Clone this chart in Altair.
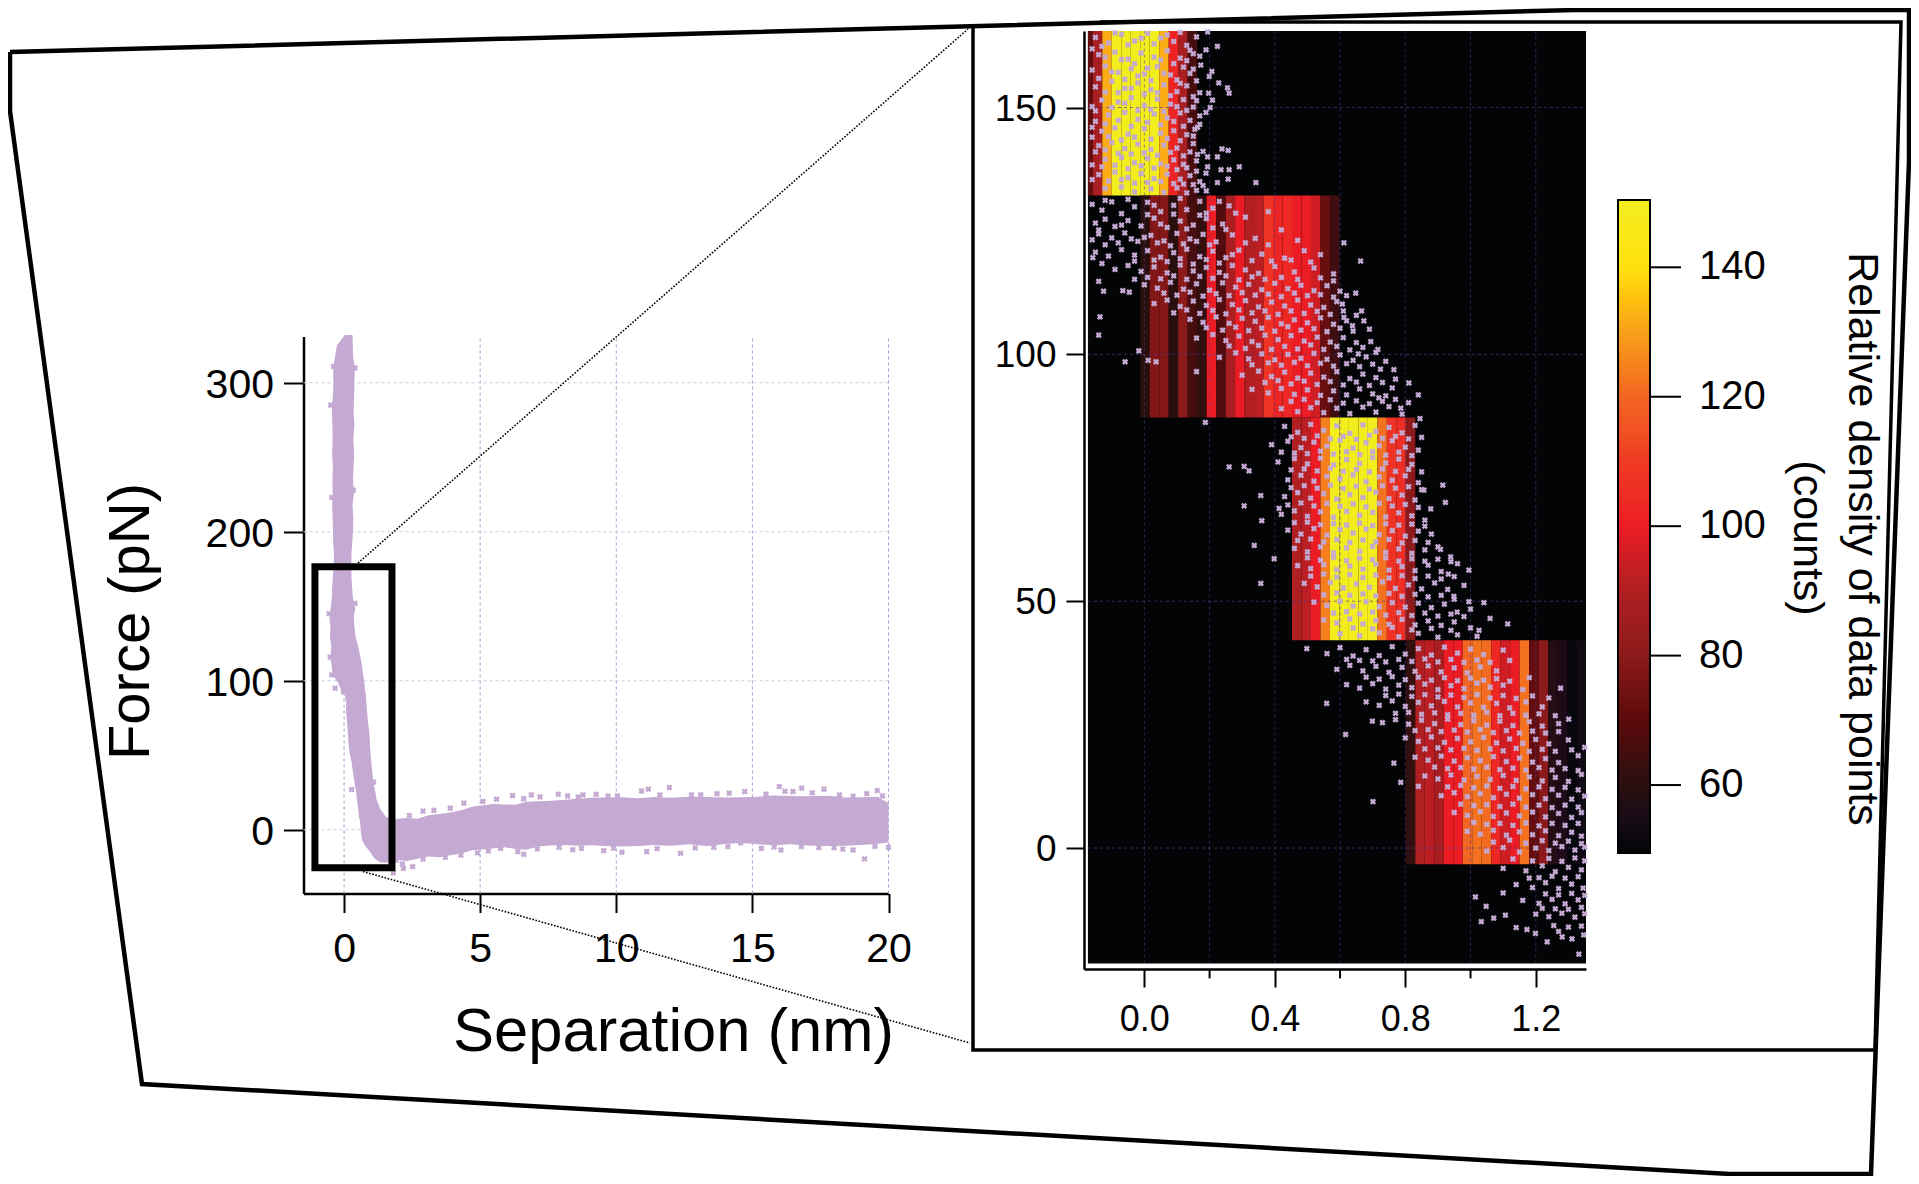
import altair as alt
import pandas as pd

FONT = "Liberation Sans"
W, H = 1903, 1168

# ---------- left plot: Force vs separation ----------
left_x_ticks = [0, 5, 10, 15, 20]
left_y_ticks = [0, 100, 200, 300]
left_x_domain = [-1.49, 20]
left_y_domain = [-42.8, 331]

# dense cloud of the steep part: force, lowest and highest separation
steep_force = [-22, -19, -15, -11, -7, -2, 3, 6.5, 8.3, 14, 20, 26, 32, 38, 45, 52, 58, 65, 72, 80, 85, 91, 95, 98, 104, 110, 116,
               123, 130, 136, 143, 150, 156, 162, 170, 178, 185, 193, 201, 209, 218, 226, 235, 244, 252, 262, 272, 281, 291, 300, 310, 318, 325, 332]
steep_low = [1.33, 1.1, .96, .78, .66, .62, .6, .58, .55, .52, .47, .44, .38, .33, .28, .2, .16, .14, .11, .07, .08, .02, -.14, -.2, -.42, -.46, -.5,
             -.47, -.52, -.5, -.54, -.48, -.45, -.44, -.41, -.38, -.37, -.4, -.41, -.42, -.44, -.42, -.43, -.41, -.44, -.42, -.43, -.45, -.41, -.39, -.4, -.33, -.26, .03]
steep_high = [2, 2, 2, 2, 2, 2, 2, 2, 1.55, 1.33, 1.2, 1.14, 1.08, 1.04, 1.0, .97, .95, .93, .88, .84, .82, .8, .76, .75, .7, .66, .6,
              .52, .42, .38, .36, .4, .32, .3, .27, .27, .27, .3, .33, .34, .31, .36, .33, .35, .37, .34, .38, .35, .37, .38, .4, .33, .32, .31]
# dense cloud of the flat part: separation, lowest and highest force
flat_sep = [1.9, 2.3, 2.7, 3.1, 3.5, 3.9, 4.3, 4.7, 5.1, 5.5, 5.9, 6.3, 6.7, 7.1, 7.6, 8.1, 8.6, 9.1, 9.6, 10.2, 10.8, 11.4, 12, 12.7,
            13.3, 14, 14.6, 15.2, 15.8, 16.4, 17, 17.8, 18.4, 19, 19.6, 20]
flat_low = [-20, -21, -19.5, -18, -18.5, -17.2, -16, -13.8, -13.2, -12.4, -11.8, -13, -13.5, -11.2, -10.6, -10.2, -10.8, -10.4, -10.9, -11.2, -11, -10.2, -10.8, -9.8,
            -11, -9.6, -8.9, -9.8, -10.4, -9.7, -10.6, -11, -10.8, -10.2, -9.4, -8.5]
flat_high = [7.2, 7.8, 7.4, 9.8, 10.5, 11.5, 13, 15.5, 16.5, 17.2, 17, 16.8, 18.8, 19.2, 19.4, 20.2, 20.8, 21.4, 21.6, 21.8, 21.2, 22, 21.5, 22.2,
             22, 21.6, 21.8, 22.2, 23, 22.6, 22.4, 22.8, 21.6, 21.8, 22.2, 18]
# stray points on the rim of the cloud
stray = [(6.19,22.9),(6.88,23.4),(7.87,23.8),(8.21,22.7),(8.78,23.4),(9.26,23.8),(10.04,22.7),(10.93,26),(11.18,27.2),
(11.95,28.3),(12.76,23.4),(14.15,24.5),(14.72,25.6),(15.99,29),(16.81,27.9),(17.63,27.2),(18.2,23.4),(19.59,26.3),
(19.78,22.7),(16.49,25.6),(2.14,-23),(2.52,-24.8),(2.9,-19.8),(3.72,-18.5),(4.29,-17),(5.75,-12.5),(6.38,-14.7),
(6.6,-16.5),(7.9,-11.8),(8.72,-12.5),(9.54,-14),(10.21,-15.1),(11.12,-14.7),(12.36,-15.8),(13.58,-11.8),(14.57,-8.8),
(15.33,-12.5),(16.05,-13.6),(17.44,-12),(18.32,-13),(18.7,-13.6),(19.12,-19.6),(20,-11.8),(-0.49,285),(-0.45,223),
(-0.55,145),(-0.51,115.8),(-0.45,104),(-0.33,95),(-0.02,92.6),(0.28,27),(1.08,32),(2.18,-26),(1.81,-29),(0.31,148),
(0.4,152),(0.34,228),(0.4,310),(-0.39,311),(2.4,9.5),(2.9,12.5),(3.3,13),(3.9,14.5),(4.4,17.8),(5.1,19),(5.6,20.5),
(6.6,20.8),(7.2,22),(8.6,21.9),(9.7,22.6),(11.6,23.4),(13.1,23.5),(13.7,24.2),(15.5,23.9),(16.2,25.8),(17.2,24.8),
(18.7,22.4),(19.2,24.2),(4.9,-15.6),(5.3,-14.2),(7.1,-12.9),(8.4,-13.4),(9.9,-12.4),(11.5,-12.6),(12.9,-12.2),(14.1,-11.4),
(15.8,-11.6),(16.8,-11.3),(18,-12),(19.5,-11.2)]
# marked rectangle (the range enlarged on the right)
box_sep = [-1.07, 1.76]
box_force = [-25.6, 176.6]

# ---------- right plot: enlarged range with density map ----------
right_x_major = [0.0, 0.4, 0.8, 1.2]
right_x_minor = [0.2, 0.6, 1.0]
right_y_ticks = [0, 50, 100, 150]
right_x_domain = [-0.185, 1.354]
right_y_domain = [-24.5, 165.5]
map_corner = [-0.173, -23.4]

force_bands = [(132.2, 165.5), (87.2, 132.2), (42.1, 87.2), (-3.3, 42.1)]
column_start = -0.158
column_width = 0.02908
# counts per column, first entry is the column number
band_columns = [
    (-1, [72, 88, 132, 150, 150, 150, 150, 150, 132, 102, 88, 66]),
    (5, [60, 78, 78, 60, 80, 66, 62, 100, 68, 88, 100, 90, 92, 107, 102, 103, 100, 100, 95, 73, 64]),
    (21, [90, 92, 100, 124, 150, 150, 150, 150, 150, 122, 107, 105, 80]),
    (33, [62, 90, 92, 88, 100, 100, 120, 122, 121, 103, 95, 100, 122, 72, 80, 58, 56, 51, 53]),
]
count_domain = [49.5, 60, 70, 80, 90, 100, 110, 120, 130, 140, 150.4]
count_colors = ["#030406", "#2a0f0f", "#5c0a0a", "#8d1a1a", "#b01f22", "#ec1c24", "#ef3a24", "#f26522", "#f9a01b", "#ffe00f", "#f4ee1f"]
count_ticks = [60, 80, 100, 120, 140]

points_top = [(.194,165.3),(.224,162.4),(.189,161.7),(.173,158.6),(.207,157.3),(.199,156.3),(.228,155),(.255,154),(.26,152.9),
(.197,152.9),(.209,151.5),(.202,150),(.189,149),(.163,146),(.238,141.6),(.257,141.3),(.163,140.5),(.194,140),(.224,140),
(.194,138),(.235,137.4),(.26,137.4),(.291,138),(.189,136.7),(.224,134.8),(.257,135.5),(.342,134.8),
(-.15,164.2),(-.11,163.1),(-.07,164.8),(-.03,163.5),(.01,165),(.05,164.1),(.09,163.4),(.13,162.6),(.16,164.3),
(-.14,160.7),(-.09,161.2),(-.05,159.8),(-.01,161),(.03,160.2),(.07,161.5),(.11,160),(.15,160.9),(.12,158.2),
(-.16,157.6),(-.12,158.4),(-.08,157.1),(-.04,157.9),(.0,156.8),(.04,158.3),(.08,156.6),(.14,156.9),(.16,155.4),
(-.15,154.2),(-.1,155.3),(-.06,153.9),(-.02,155),(.02,153.6),(.06,154.6),(.1,153.2),(.13,154.4),(.17,153),
(-.13,151.5),(-.08,151.1),(-.04,152),(.0,150.4),(.04,151.7),(.08,150.7),(.12,151.6),(.15,150.1),(-.16,150.2),
(-.11,148.5),(-.06,149),(-.02,147.6),(.03,148.7),(.07,147.9),(.11,148.9),(.14,147.4),(.17,148.3),(-.15,147.2),
(-.13,145.2),(-.09,145.9),(-.05,144.6),(.0,145.7),(.05,144.8),(.09,145.3),(.13,144.5),(.155,145.6),(-.16,144),
(-.14,142.3),(-.1,142.9),(-.06,141.7),(-.02,142.6),(.02,141.5),(.06,142.4),(.1,141.8),(.15,142.7),(.18,141.1),
(-.12,139.5),(-.07,139.9),(-.03,138.8),(.01,139.7),(.05,138.6),(.09,139.4),(.12,138.5),(.16,139.2),(-.16,138.4),
(-.14,136.4),(-.09,136.9),(-.05,135.8),(-.01,136.6),(.03,135.6),(.07,136.5),(.11,135.5),(.14,136.2),(.17,135),
(-.12,133.6),(-.07,133.9),(-.03,132.9),(.02,133.5),(.06,132.8),(.1,133.7),(.13,132.7),(.16,133.2),(.19,133.1),
(-.13,162.4),(-.09,165.1),(-.05,162.7),(-.01,164),(.03,162.9),(.07,164.7),(.11,165.2),(.14,161.6),(-.16,161.9),(-.12,160.2),
(-.07,159.7),(-.03,158.9),(.01,158),(.05,159.6),(.09,158.9),(.13,159.5),(.17,160.4),(-.14,155.9),(-.1,157.2),(-.06,155.7),
(-.02,156.4),(.02,155.5),(.06,156.9),(.1,155.6),(.15,157.8),(-.12,153.1),(-.08,153),(-.04,153.9),(.0,152.7),(.04,153),(.08,152.4),(.11,154.9),(.15,152.2),
(-.15,149.3),(-.1,150),(-.06,150.9),(-.02,149.4),(.02,149.6),(.06,149.2),(.1,150.2),(.13,149.4),(.16,151.4),
(-.12,146.7),(-.08,147.4),(-.04,146.2),(.01,147),(.05,146.5),(.09,147.2),(.12,146.2),(.17,146.6),(-.16,146),
(-.11,144.1),(-.07,143.4),(-.03,144),(.02,143.6),(.07,143.7),(.11,143.3),(.15,144.2),(-.15,141),(-.12,141.4),(-.08,140.7),
(-.04,140.6),(.0,140.8),(.04,140.3),(.08,140.9),(.12,140.2),(.14,141),(-.13,138),(-.09,138.3),(-.05,137.6),(-.01,138.2),(.03,137.7),(.07,138.1),(.1,137.4),(.13,137.8),(.16,137.1),
(-.16,135.4),(-.11,135.1),(-.07,135.4),(-.03,134.7),(.01,134.8),(.05,135),(.09,134.6),(.12,134.5),(.15,134.4),(.18,134.2)]
points_middle = [(.612,122.6),(.663,118.9),(.648,112.4),(.607,110.2),(.666,108.8),(.612,107.5),(.673,106.8),(.638,105.8),
(.694,102.6),(.656,100.1),(.716,101),(.724,97),(.765,96.9),(.811,94.2),(.76,93.2),(.719,91.2),(.786,89.1),(.845,87),
(-.14,103.9),(-.136,107.6),(-.059,98.5),(-.14,114.8),(-.125,112.8),(-.158,119.6),(-.066,112.9),(-.046,112.6),(-.017,100.7),
(.012,98.8),(.036,98.5),(.187,86.2),(.16,96.5),
(-.16,130.4),(-.13,129.2),(-.1,130.9),(-.07,128.5),(-.03,129.9),(.01,130.8),(.05,128.9),(.09,130.2),(.13,129.3),(.17,131),(.21,129.6),(.26,130.1),
(-.15,126.6),(-.12,127.4),(-.09,125.9),(-.05,127.1),(-.01,126),(.03,127.6),(.07,125.7),(.11,127),(.15,126.2),(.19,127.5),(.24,126.4),(.31,127.8),(.38,128.9),
(-.16,123.2),(-.14,124.4),(-.1,123.6),(-.06,124.6),(-.02,122.9),(.02,124.1),(.06,123),(.1,124.5),(.14,123.4),(.18,124.3),(.22,122.8),(.27,124.2),(.34,123.5),(.42,125.2),(.47,123.1),
(-.15,120.7),(-.11,119.9),(-.07,121.2),(-.03,120.1),(.01,121),(.05,119.7),(.09,120.6),(.13,121.3),(.17,119.8),(.21,120.9),(.25,119.6),(.29,121.1),(.36,120.3),(.43,119.5),(.49,121),(.54,120.2),
(-.09,117.2),(-.05,118),(-.01,116.8),(.03,117.7),(.07,116.5),(.11,118.1),(.15,116.9),(.19,117.6),(.23,116.6),(.27,118),(.31,117.1),(.35,116.4),(.4,117.8),(.46,116.7),(.52,117.5),(.58,116.3),
(.0,114.1),(.04,113.4),(.08,114.6),(.12,113.2),(.16,114.3),(.2,113),(.24,114.5),(.28,113.6),(.32,114.2),(.36,113.1),(.4,114.4),(.44,113.3),(.48,114),(.52,112.9),(.56,113.9),(.6,112.8),
(.03,110.3),(.07,111),(.11,109.7),(.15,110.8),(.19,109.9),(.23,111.1),(.27,110.1),(.31,110.9),(.35,109.6),(.39,110.6),(.43,109.8),(.47,111),(.51,110),(.55,109.5),(.59,110.7),
(.14,107.1),(.18,106.5),(.22,107.6),(.26,106.3),(.3,107.3),(.34,106.7),(.38,107.5),(.42,106.2),(.46,107),(.5,106.4),(.54,107.4),(.58,106.1),(.62,106.8),
(.16,103.3),(.21,104),(.25,102.8),(.29,103.7),(.33,102.6),(.37,103.9),(.41,103),(.45,103.8),(.49,102.7),(.53,103.5),(.57,102.5),(.61,103.4),(.65,102.4),
(.23,99.4),(.28,100.3),(.32,99.1),(.36,100.1),(.4,98.9),(.44,100),(.48,99.2),(.52,100.2),(.56,99),(.6,99.9),(.64,98.8),(.68,99.5),
(.3,95.8),(.35,96.6),(.39,95.5),(.43,96.4),(.47,95.2),(.51,96.2),(.55,95.4),(.59,96.5),(.63,95.1),(.67,96),(.71,95.3),
(.33,92.9),(.38,92.2),(.42,93.1),(.46,91.9),(.5,92.8),(.54,91.7),(.58,92.6),(.62,91.8),(.66,93),(.7,92),(.74,91.6),
(.42,89),(.47,88.4),(.51,89.2),(.55,88.2),(.59,89.1),(.63,88),(.67,89.3),(.71,88.3),(.75,89.4),(.79,87.9),
(-.12,131.2),(-.05,131.4),(.03,130.2),(.11,131.6),(.19,128.6),(.23,131),(-.14,125.2),(-.07,126.2),(.01,128.3),(.05,126.4),(.09,128.4),(.13,125.4),(.17,128.2),(.21,125.6),(.28,128.6),
(-.12,122.2),(-.08,122.6),(-.04,123.4),(.0,123.7),(.04,122.6),(.08,122),(.12,122.4),(.16,122.9),(.2,122.2),(.25,125.3),(.31,122.6),(.38,122.2),
(-.13,118.4),(-.03,118.9),(.03,119.1),(.07,118.8),(.11,119.4),(.15,118.3),(.19,119.2),(.23,118.5),(.27,120.2),(.33,119),(.39,118.9),(.45,119.1),(.51,118.7),
(-.03,115.2),(.01,115.6),(.05,115.3),(.09,115.9),(.13,115.2),(.17,115.8),(.21,115.4),(.25,115.9),(.29,115.1),(.33,115.7),(.37,115.2),(.42,115.6),(.47,115.2),(.54,115.5),(.58,114.9),
(.06,112.4),(.1,112),(.14,112.6),(.18,111.8),(.22,112.3),(.26,111.9),(.3,112.5),(.34,112),(.38,112.2),(.42,111.7),(.46,112.4),(.5,111.9),(.54,112.1),(.58,111.6),(.62,111.9),
(.09,108.4),(.13,109),(.17,108.3),(.21,108.9),(.25,108.2),(.29,109),(.33,108.4),(.37,108.8),(.41,108.1),(.45,108.8),(.49,108.3),(.53,108.7),(.57,108.1),(.61,108.8),(.65,107.9),
(.19,105.4),(.24,104.9),(.28,105.5),(.32,104.8),(.36,105.3),(.4,104.7),(.44,105.6),(.48,104.9),(.52,105.2),(.56,104.6),(.6,105.3),(.64,104.7),(.69,105.1),
(.26,101.7),(.31,101.2),(.35,101.8),(.39,101),(.43,101.6),(.47,101.1),(.51,101.9),(.55,101),(.59,101.6),(.63,100.9),(.67,101.4),(.71,100.4),
(.33,97.9),(.38,98.3),(.42,97.8),(.46,98.4),(.5,97.7),(.54,98.2),(.58,97.6),(.62,98.1),(.66,97.5),(.7,98),(.74,98.6),
(.37,94.3),(.41,94.7),(.45,94),(.49,94.6),(.53,93.9),(.57,94.5),(.61,93.8),(.65,94.4),(.69,93.7),(.73,94.3),(.77,95),
(.45,90.5),(.49,90.9),(.53,90.2),(.57,90.8),(.61,90.1),(.65,90.6),(.69,90),(.73,90.5),(.77,90.9),(.81,90.2),(.84,91.8)]
points_third = [(.26,77.2),(.306,77.3),(.321,76.4),(.306,69.3),(.357,71.4),(.357,53.6),(.337,61.3),(.398,58.6),(.36,66.3),(.413,68.8),
(.857,72.5),(.915,73.5),(.923,70),(.878,68.7),(.908,60.5),(.939,59),(.995,56.3),(.932,55.5),(.949,51),(1.041,49.7),(.995,49.9),
(.959,47.8),(1.114,45.4),(1.026,44.1),
(.43,85.4),(.47,84.2),(.51,85.8),(.55,84.6),(.59,85.5),(.63,84),(.67,85.7),(.71,84.4),(.75,85.2),(.79,84.1),(.83,85.6),
(.39,81.7),(.44,82.4),(.48,81.1),(.52,82.2),(.56,81.4),(.6,82.6),(.64,81),(.68,82.1),(.72,81.5),(.76,82.5),(.8,81.2),(.84,80.6),
(.41,78.2),(.46,78.9),(.5,77.8),(.54,79),(.58,77.6),(.62,78.7),(.66,77.9),(.7,79.1),(.74,78),(.78,78.8),(.82,77.7),
(.44,74.6),(.48,75.5),(.52,74.3),(.56,75.3),(.6,74.8),(.64,75.6),(.68,74.2),(.72,75.2),(.76,74.5),(.8,75.4),(.84,74),
(.43,71.2),(.47,72),(.51,70.9),(.55,71.8),(.59,70.7),(.63,71.6),(.67,71),(.71,72.1),(.75,70.8),(.79,71.5),(.83,70.5),
(.42,67.6),(.46,68.3),(.5,67.2),(.54,68.1),(.58,67),(.62,68.2),(.66,67.4),(.7,68),(.74,67.1),(.78,67.9),(.82,67.3),(.86,66.4),
(.44,64.4),(.48,63.6),(.52,64.7),(.56,63.4),(.6,64.5),(.64,63.8),(.68,64.6),(.72,63.5),(.76,64.3),(.8,63.2),(.84,64.2),(.88,63.6),
(.46,60.7),(.5,60),(.54,61),(.58,59.8),(.62,60.8),(.66,60.1),(.7,61.1),(.74,59.9),(.78,60.6),(.82,59.7),(.86,60.4),(.9,61),
(.47,57.2),(.51,56.6),(.55,57.4),(.59,56.4),(.63,57.1),(.67,56.5),(.71,57.5),(.75,56.3),(.79,57),(.83,56.2),(.87,57.3),(.91,56),(.96,57.6),
(.49,53.6),(.53,52.9),(.57,53.8),(.61,52.7),(.65,53.5),(.69,52.8),(.73,53.9),(.77,52.6),(.81,53.3),(.85,52.5),(.89,53.7),(.93,52.4),(.98,53.2),
(.52,49.8),(.56,49.1),(.6,50),(.64,49),(.68,49.9),(.72,48.9),(.76,49.7),(.8,48.8),(.84,49.6),(.88,48.7),(.92,49.4),(1.0,48.4),
(.55,46.2),(.59,45.6),(.63,46.4),(.67,45.4),(.71,46.1),(.75,45.3),(.79,46.3),(.83,45.2),(.87,46),(.91,45.1),(.95,45.8),(1.06,46.5),
(.6,43.4),(.66,43),(.72,43.6),(.78,42.8),(.84,43.5),(.9,42.7),(.96,43.2),(1.02,42.9),
(.45,83.3),(.49,83),(.53,83.5),(.57,82.9),(.61,83.4),(.65,82.8),(.69,83.6),(.73,83),(.77,83.4),(.81,82.9),(.85,83.2),
(.42,80.2),(.46,80),(.5,79.9),(.54,80.4),(.58,79.8),(.62,80.3),(.66,79.7),(.7,80.3),(.74,79.6),(.78,80.2),(.82,79.5),
(.45,76.6),(.49,76.8),(.53,76.4),(.57,76.9),(.61,76.3),(.65,76.7),(.69,76.2),(.73,76.8),(.77,76.3),(.81,76.7),(.85,76.2),
(.45,73),(.49,73.4),(.53,72.9),(.57,73.5),(.61,72.8),(.65,73.3),(.69,72.7),(.73,73.4),(.77,72.9),(.81,73.2),(.85,72.6),
(.44,69.5),(.48,69.9),(.52,69.3),(.56,69.8),(.6,69.2),(.64,69.7),(.68,69.1),(.72,69.8),(.76,69.3),(.8,69.6),(.84,69),
(.46,65.9),(.5,66),(.54,65.5),(.58,65.7),(.62,65.4),(.66,65.8),(.7,65.3),(.74,65.7),(.78,65.4),(.82,65.6),(.86,65.2),
(.47,62.3),(.51,62.6),(.55,62),(.59,62.5),(.63,61.9),(.67,62.4),(.71,62),(.75,62.5),(.79,61.8),(.83,62.3),(.87,61.9),
(.5,58.8),(.54,58.3),(.58,58.9),(.62,58.2),(.66,58.7),(.7,58.4),(.74,58.8),(.78,58.1),(.82,58.6),(.86,58.1),(.9,58.5),(.94,58),
(.51,55.1),(.55,55.5),(.59,54.9),(.63,55.4),(.67,54.8),(.71,55.3),(.75,54.7),(.79,55.2),(.83,54.6),(.87,55.1),(.91,54.5),(.95,55),
(.55,51.3),(.59,51.7),(.63,51.2),(.67,51.5),(.71,51.1),(.75,51.6),(.79,51),(.83,51.4),(.87,50.9),(.91,51.2),(.95,50.4),
(.58,47.6),(.62,47.9),(.66,47.4),(.7,47.8),(.74,47.2),(.78,47.7),(.82,47.1),(.86,47.6),(.9,47),(.94,47.4),(.98,46.9),
(.64,44.6),(.7,44.4),(.76,44.7),(.82,44.2),(.88,44.5),(.94,44.1),(1.0,44.6)]
points_bottom = [(.498,40.4),(.559,29.3),(.617,23),(.699,25.7),(.765,17.2),(.786,13.3),(.701,9.4),(.84,12.5),(1.276,32.4),(1.301,26.1),(1.27,25.2),
(.56,39.4),(.6,40.6),(.64,38.9),(.68,40.2),(.72,39),(.76,40.8),(.8,39.3),(.84,40.4),(.88,39.1),(.92,40.7),(.96,39.5),(1.0,40.3),(1.04,39.2),(1.1,40.1),
(.59,36.2),(.63,37),(.67,35.9),(.71,36.8),(.75,35.6),(.79,36.6),(.83,35.8),(.87,36.9),(.91,35.7),(.95,36.5),(.99,35.5),(1.03,36.7),(1.08,35.9),
(.62,33.1),(.66,32.4),(.7,33.3),(.74,32.2),(.78,33),(.82,32.5),(.86,33.2),(.9,32.1),(.94,32.9),(.98,32.3),(1.02,33.4),(1.06,32.6),(1.1,33),(1.16,32.1),
(.68,29.6),(.72,28.9),(.76,29.8),(.8,28.7),(.84,29.5),(.88,28.8),(.92,29.7),(.96,28.6),(1.0,29.4),(1.04,28.5),(1.08,29.3),(1.12,28.4),(1.17,29.6),(1.22,28.6),
(.73,25.4),(.77,26),(.81,25.1),(.85,25.9),(.89,25.2),(.93,26.1),(.97,25),(1.01,25.8),(1.05,24.9),(1.09,25.7),(1.13,24.8),(1.18,25.6),(1.22,24.7),
(.8,22.3),(.84,21.6),(.88,22.5),(.92,21.4),(.96,22.2),(1.0,21.5),(1.04,22.4),(1.08,21.3),(1.12,22.1),(1.16,21.2),(1.2,22),(1.24,21.1),(1.3,21.9),
(.83,18.4),(.87,17.8),(.91,18.6),(.95,17.6),(.99,18.3),(1.03,17.7),(1.07,18.5),(1.11,17.5),(1.15,18.2),(1.19,17.4),(1.23,18.1),(1.27,17.3),(1.33,18.7),
(.86,14.6),(.9,14),(.94,14.8),(.98,13.8),(1.02,14.5),(1.06,13.9),(1.1,14.7),(1.14,13.7),(1.18,14.4),(1.22,13.6),(1.26,14.3),(1.3,13.5),(1.34,14.9),
(.91,10.6),(.95,11.2),(.99,10.4),(1.03,11),(1.07,10.2),(1.11,10.9),(1.15,10.1),(1.19,10.8),(1.23,10),(1.27,10.7),(1.31,9.9),(1.35,10.5),
(.95,7.2),(.99,6.6),(1.03,7.4),(1.07,6.4),(1.11,7.1),(1.15,6.5),(1.19,7.3),(1.23,6.3),(1.27,7),(1.31,6.2),(1.34,7.2),
(.99,3.4),(1.03,2.8),(1.07,3.6),(1.11,2.6),(1.15,3.3),(1.19,2.7),(1.23,3.5),(1.27,2.5),(1.31,3.2),(1.34,2.4),
(1.05,-.6),(1.1,.1),(1.15,-.8),(1.2,0),(1.24,-.5),(1.28,.3),(1.32,-.4),(1.35,.2),
(1.1,-4.1),(1.17,-4.6),(1.22,-3.6),(1.26,-4.8),(1.3,-3.9),(1.34,-4.4),
(1.015,-9.9),(1.048,-11.8),(1.033,-14.9),(1.071,-14.2),(1.107,-13.6),(1.14,-16.1),(1.173,-16.5),(1.199,-17.3),(1.235,-19),(1.255,-15.7),
(1.281,-18),(1.311,-18.4),(1.332,-21.5),(1.347,-17.6),
(1.14,-7.4),(1.19,-8),(1.23,-7),(1.27,-8.2),(1.31,-7.3),(1.345,-8.1),(1.16,-10.6),(1.21,-11.2),(1.25,-10.4),(1.29,-11.3),(1.33,-10.5),
(1.2,-13.4),(1.24,-13.9),(1.28,-13.2),(1.32,-14),(1.35,-13.3),
(.62,38.2),(.66,38),(.7,37.9),(.74,37.7),(.78,38.2),(.82,37.8),(.86,38.3),(.9,37.7),(.94,38.2),(.98,37.6),(1.02,38.1),(1.06,37.6),(1.12,38),
(.68,34.6),(.72,34.2),(.76,34.7),(.8,34.1),(.84,34.6),(.88,34),(.92,34.5),(.96,33.9),(1,34.4),(1.04,34),(1.08,34.3),(1.12,33.8),(1.18,34.5),
(.74,30.9),(.78,31.2),(.82,30.7),(.86,31.1),(.9,30.6),(.94,31),(.98,30.5),(1.02,31.1),(1.06,30.4),(1.1,30.9),(1.14,30.3),(1.19,30.8),(1.24,30.4),
(.77,27.3),(.81,27.5),(.85,27.1),(.89,27.4),(.93,27),(.97,27.3),(1.01,26.9),(1.05,27.5),(1.09,26.8),(1.13,27.3),(1.17,26.9),(1.21,27.2),(1.26,26.8),
(.83,23.8),(.87,24),(.91,23.6),(.95,23.9),(.99,23.5),(1.03,24),(1.07,23.4),(1.11,23.8),(1.15,23.3),(1.19,23.7),(1.23,23.3),(1.27,23.6),
(.86,20.1),(.9,20.3),(.94,19.9),(.98,20.2),(1.02,19.8),(1.06,20.1),(1.1,19.7),(1.14,20.2),(1.18,19.6),(1.22,20),(1.26,19.6),(1.31,19.9),(1.35,20.4),
(.89,16.4),(.93,16.1),(.97,16.3),(1.01,16),(1.05,16.4),(1.09,15.9),(1.13,16.2),(1.17,15.8),(1.21,16.3),(1.25,15.8),(1.29,16.1),(1.33,15.7),
(.93,12.4),(.97,12.7),(1.01,12.2),(1.05,12.6),(1.09,12.1),(1.13,12.5),(1.17,12),(1.21,12.4),(1.25,11.9),(1.29,12.3),(1.33,11.8),
(.97,8.9),(1.01,8.6),(1.05,8.8),(1.09,8.4),(1.13,8.9),(1.17,8.3),(1.21,8.7),(1.25,8.2),(1.29,8.7),(1.33,8.3),
(1.01,5.2),(1.05,4.8),(1.09,5),(1.13,4.6),(1.17,5.1),(1.21,4.5),(1.25,5),(1.29,4.6),(1.33,5),
(1.07,1.2),(1.12,1.6),(1.17,1),(1.22,1.5),(1.26,1),(1.3,1.4),(1.34,.9),
(1.13,-2.2),(1.19,-2.6),(1.24,-2.1),(1.28,-2.7),(1.32,-2),(1.35,-2.6),(1.21,-6),(1.25,-5.7),(1.29,-6.1),(1.33,-5.8),(1.18,-6.1),
(1.1,-9.1),(1.23,-9.3),(1.27,-9.5),(1.31,-9.2),(1.35,-9.6),(1.3,-12.4),(1.34,-12),(1.26,-12.3),(1.22,-12.2),(1.3,-16),(1.34,-15.8),(1.27,-16.9)]

# ---------- figure dressing, in page pixels ----------
outer_frame_x = [10, 10, 142, 1730, 1871, 1909, 1909, 1575, 10]
outer_frame_y = [52, 111, 1084, 1174, 1174, 161, 10, 10, 52]
inner_frame_x = [973, 973, 1875, 1901, 1100]
inner_frame_y = [27, 1050, 1050, 22, 22]
link_upper_x = [358, 968]
link_upper_y = [563, 29]
link_lower_x = [363, 970]
link_lower_y = [871.5, 1043]
side_labels = ["Relative density of data points", "(counts)"]
side_label_x = [1862, 1807]
side_label_y = [539, 538]
bar_tick_x = [1650, 1681]


def sc(domain, rng):
    return alt.Scale(domain=domain, range=rng, nice=False, zero=False)


lx = sc(left_x_domain, [295.5, 880.5])
ly = sc(left_y_domain, [885.5, 328.6])
rx = sc(right_x_domain, [1076, 1578])
ry = sc(right_y_domain, [961, 23])
fx = sc([0, 1919], [-8, 1911])
fy = sc([0, 1184], [-8, 1176])
by = sc([49.5, 150.4], [845, 192])

# --- left plot layers
left_axis_x = alt.Axis(values=left_x_ticks, grid=False, orient="bottom", offset=885.5 - H, tickSize=19, tickWidth=2,
                       tickColor="black", domainColor="black", domainWidth=2.5, labelFont=FONT, labelFontSize=41,
                       labelColor="black", labelPadding=17, labelFlush=False, title="Separation (nm)", titleFont=FONT,
                       titleFontSize=61.5, titleFontWeight="normal", titleColor="black", titleX=665, titleY=138.5,
                       titleBaseline="middle", titleAlign="center", titlePadding=0)
left_axis_y = alt.Axis(values=left_y_ticks, grid=False, orient="left", offset=-295.5, tickSize=20, tickWidth=2,
                       tickColor="black", domainColor="black", domainWidth=2.5, labelFont=FONT, labelFontSize=41,
                       labelColor="black", labelPadding=10, labelOffset=2.5, labelFlush=False, title="Force (pN)",
                       titleFont=FONT, titleFontSize=58, titleFontWeight="normal", titleColor="black", titleX=-172.5,
                       titleY=613, titleAngle=-90, titleBaseline="middle", titleAlign="center", titlePadding=0)

left_v = pd.DataFrame({"x": left_x_ticks, "a": left_y_domain[0], "b": left_y_domain[1]})
left_h = pd.DataFrame({"y": left_y_ticks, "a": left_x_domain[0], "b": left_x_domain[1]})
grid_left_v = alt.Chart(left_v).mark_rule(color="#a29dd2", strokeDash=[3, 3], strokeWidth=1).encode(
    x=alt.X("x:Q", scale=lx, axis=left_axis_x),
    y=alt.Y("a:Q", scale=ly, axis=left_axis_y), y2="b:Q")
grid_left_h = alt.Chart(left_h).mark_rule(color="#cdcae4", strokeDash=[3, 3], strokeWidth=1).encode(
    y=alt.Y("y:Q", scale=ly, axis=None),
    x=alt.X("a:Q", scale=lx, axis=None), x2="b:Q")

CLOUD = "#c4a9d3"
steep = alt.Chart(pd.DataFrame({"f": steep_force, "lo": steep_low, "hi": steep_high})).mark_area(
    orient="horizontal", color=CLOUD, opacity=1).encode(
    y=alt.Y("f:Q", scale=ly, axis=None), x=alt.X("lo:Q", scale=lx, axis=None), x2="hi:Q")
flat = alt.Chart(pd.DataFrame({"s": flat_sep, "lo": flat_low, "hi": flat_high})).mark_area(
    orient="vertical", color=CLOUD, opacity=1).encode(
    x=alt.X("s:Q", scale=lx, axis=None), y=alt.Y("lo:Q", scale=ly, axis=None), y2="hi:Q")
stray_df = pd.DataFrame(stray, columns=["s", "f"])
stray_pts = alt.Chart(stray_df).mark_point(shape="cross", filled=True, angle=45, size=40, color=CLOUD, opacity=1).encode(
    x=alt.X("s:Q", scale=lx, axis=None), y=alt.Y("f:Q", scale=ly, axis=None))
box = alt.Chart(pd.DataFrame({"a": [box_sep[0]], "b": [box_sep[1]], "c": [box_force[0]], "d": [box_force[1]]})).mark_rect(
    fillOpacity=0, stroke="black", strokeWidth=7).encode(
    x=alt.X("a:Q", scale=lx, axis=None), x2="b:Q", y=alt.Y("c:Q", scale=ly, axis=None), y2="d:Q")

# --- density map
map_back = alt.Chart(pd.DataFrame({"a": [map_corner[0]], "b": [right_x_domain[1]], "c": [map_corner[1]], "d": [right_y_domain[1]]})).mark_rect(
    color="#030406", strokeWidth=0).encode(
    x=alt.X("a:Q", scale=rx, axis=None), x2="b:Q", y=alt.Y("c:Q", scale=ry, axis=None), y2="d:Q")
rows = []
for (f0, f1), (first, counts) in zip(force_bands, band_columns):
    for i, n in enumerate(counts):
        a = column_start + (first + i) * column_width
        rows.append({"a": max(a, map_corner[0]), "b": min(a + column_width, right_x_domain[1]), "c": f0, "d": f1, "n": n})
heat = alt.Chart(pd.DataFrame(rows)).mark_rect(strokeWidth=0).encode(
    x=alt.X("a:Q", scale=rx, axis=alt.Axis(values=right_x_major, format=".1f", grid=False, orient="bottom",
                                           offset=961 - H, tickSize=18, tickWidth=2, tickColor="black",
                                           domainColor="black", domainWidth=2.5, labelFont=FONT, labelFontSize=36,
                                           labelColor="black", labelPadding=15, labelFlush=False, title=None)),
    x2="b:Q",
    y=alt.Y("c:Q", scale=ry, axis=alt.Axis(values=right_y_ticks, grid=False, orient="left", offset=-1076, tickSize=18,
                                           tickWidth=2, tickColor="black", domainColor="black", domainWidth=2.5,
                                           labelFont=FONT, labelFontSize=37, labelColor="black", labelPadding=10,
                                           labelOffset=1.5, labelFlush=False, title=None)),
    y2="d:Q",
    color=alt.Color("n:Q", scale=alt.Scale(domain=count_domain, range=count_colors),
                    legend=alt.Legend(orient="none", legendX=1610, legendY=192, direction="vertical",
                                      gradientLength=653, gradientThickness=32, gradientStrokeColor="black",
                                      gradientStrokeWidth=2, values=count_ticks, labelFont=FONT, labelFontSize=40,
                                      labelColor="black", labelOffset=49, labelOverlap=False, title=None, padding=0)))
right_v = pd.DataFrame({"x": right_x_major + right_x_minor, "a": map_corner[1], "b": right_y_domain[1]})
right_h = pd.DataFrame({"y": right_y_ticks, "a": map_corner[0], "b": right_x_domain[1]})
grid_right_v = alt.Chart(right_v).mark_rule(color="#4a3f8c", strokeDash=[3, 3], strokeWidth=1, opacity=0.6).encode(
    x=alt.X("x:Q", scale=rx, axis=None), y=alt.Y("a:Q", scale=ry, axis=None), y2="b:Q")
grid_right_h = alt.Chart(right_h).mark_rule(color="#4a3f8c", strokeDash=[3, 3], strokeWidth=1, opacity=0.7).encode(
    y=alt.Y("y:Q", scale=ry, axis=None), x=alt.X("a:Q", scale=rx, axis=None), x2="b:Q")
minor = alt.Chart(pd.DataFrame({"x": right_x_minor, "a": -24.5, "b": -26.4})).mark_rule(color="black", strokeWidth=2).encode(
    x=alt.X("x:Q", scale=rx, axis=None), y=alt.Y("a:Q", scale=ry, axis=None), y2="b:Q")
all_pts = pd.DataFrame(points_top + points_middle + points_third + points_bottom, columns=["s", "f"])
scatter = alt.Chart(all_pts).mark_point(shape="cross", filled=True, angle=45, size=40, color=CLOUD, opacity=1).encode(
    x=alt.X("s:Q", scale=rx, axis=None), y=alt.Y("f:Q", scale=ry, axis=None))

# --- colour bar ticks and its title
bar_ticks = alt.Chart(pd.DataFrame({"n": count_ticks, "a": bar_tick_x[0], "b": bar_tick_x[1]})).mark_rule(
    color="black", strokeWidth=2).encode(
    y=alt.Y("n:Q", scale=by, axis=None), x=alt.X("a:Q", scale=fx, axis=None), x2="b:Q")
side = alt.Chart(pd.DataFrame({"t": side_labels, "x": side_label_x, "y": side_label_y})).mark_text(
    angle=90, align="center", baseline="middle", font=FONT, fontSize=43, color="black").encode(
    x=alt.X("x:Q", scale=fx, axis=None), y=alt.Y("y:Q", scale=fy, axis=None), text="t:N")


def polyline(xs, ys, **kw):
    d = pd.DataFrame({"x": xs, "y": ys, "i": range(len(xs))})
    return alt.Chart(d).mark_line(color="black", **kw).encode(
        x=alt.X("x:Q", scale=fx, axis=None), y=alt.Y("y:Q", scale=fy, axis=None), order="i:Q")


chart = alt.layer(
    grid_left_v, grid_left_h, steep, flat, stray_pts, box,
    map_back, heat, grid_right_v, grid_right_h, minor, scatter,
    bar_ticks, side,
    polyline(outer_frame_x, outer_frame_y, strokeWidth=4.5),
    polyline(inner_frame_x, inner_frame_y, strokeWidth=3.5),
    polyline(link_upper_x, link_upper_y, strokeWidth=1.6, strokeDash=[1.6, 1.6]),
    polyline(link_lower_x, link_lower_y, strokeWidth=1.6, strokeDash=[1.6, 1.6]),
).resolve_scale(x="independent", y="independent").properties(
    width=W, height=H, padding=0, background="white",
    autosize=alt.AutoSizeParams(type="none", contains="padding"),
).configure_view(stroke=None)

chart.save("out.html", embed_options={"renderer": "svg", "actions": False})
